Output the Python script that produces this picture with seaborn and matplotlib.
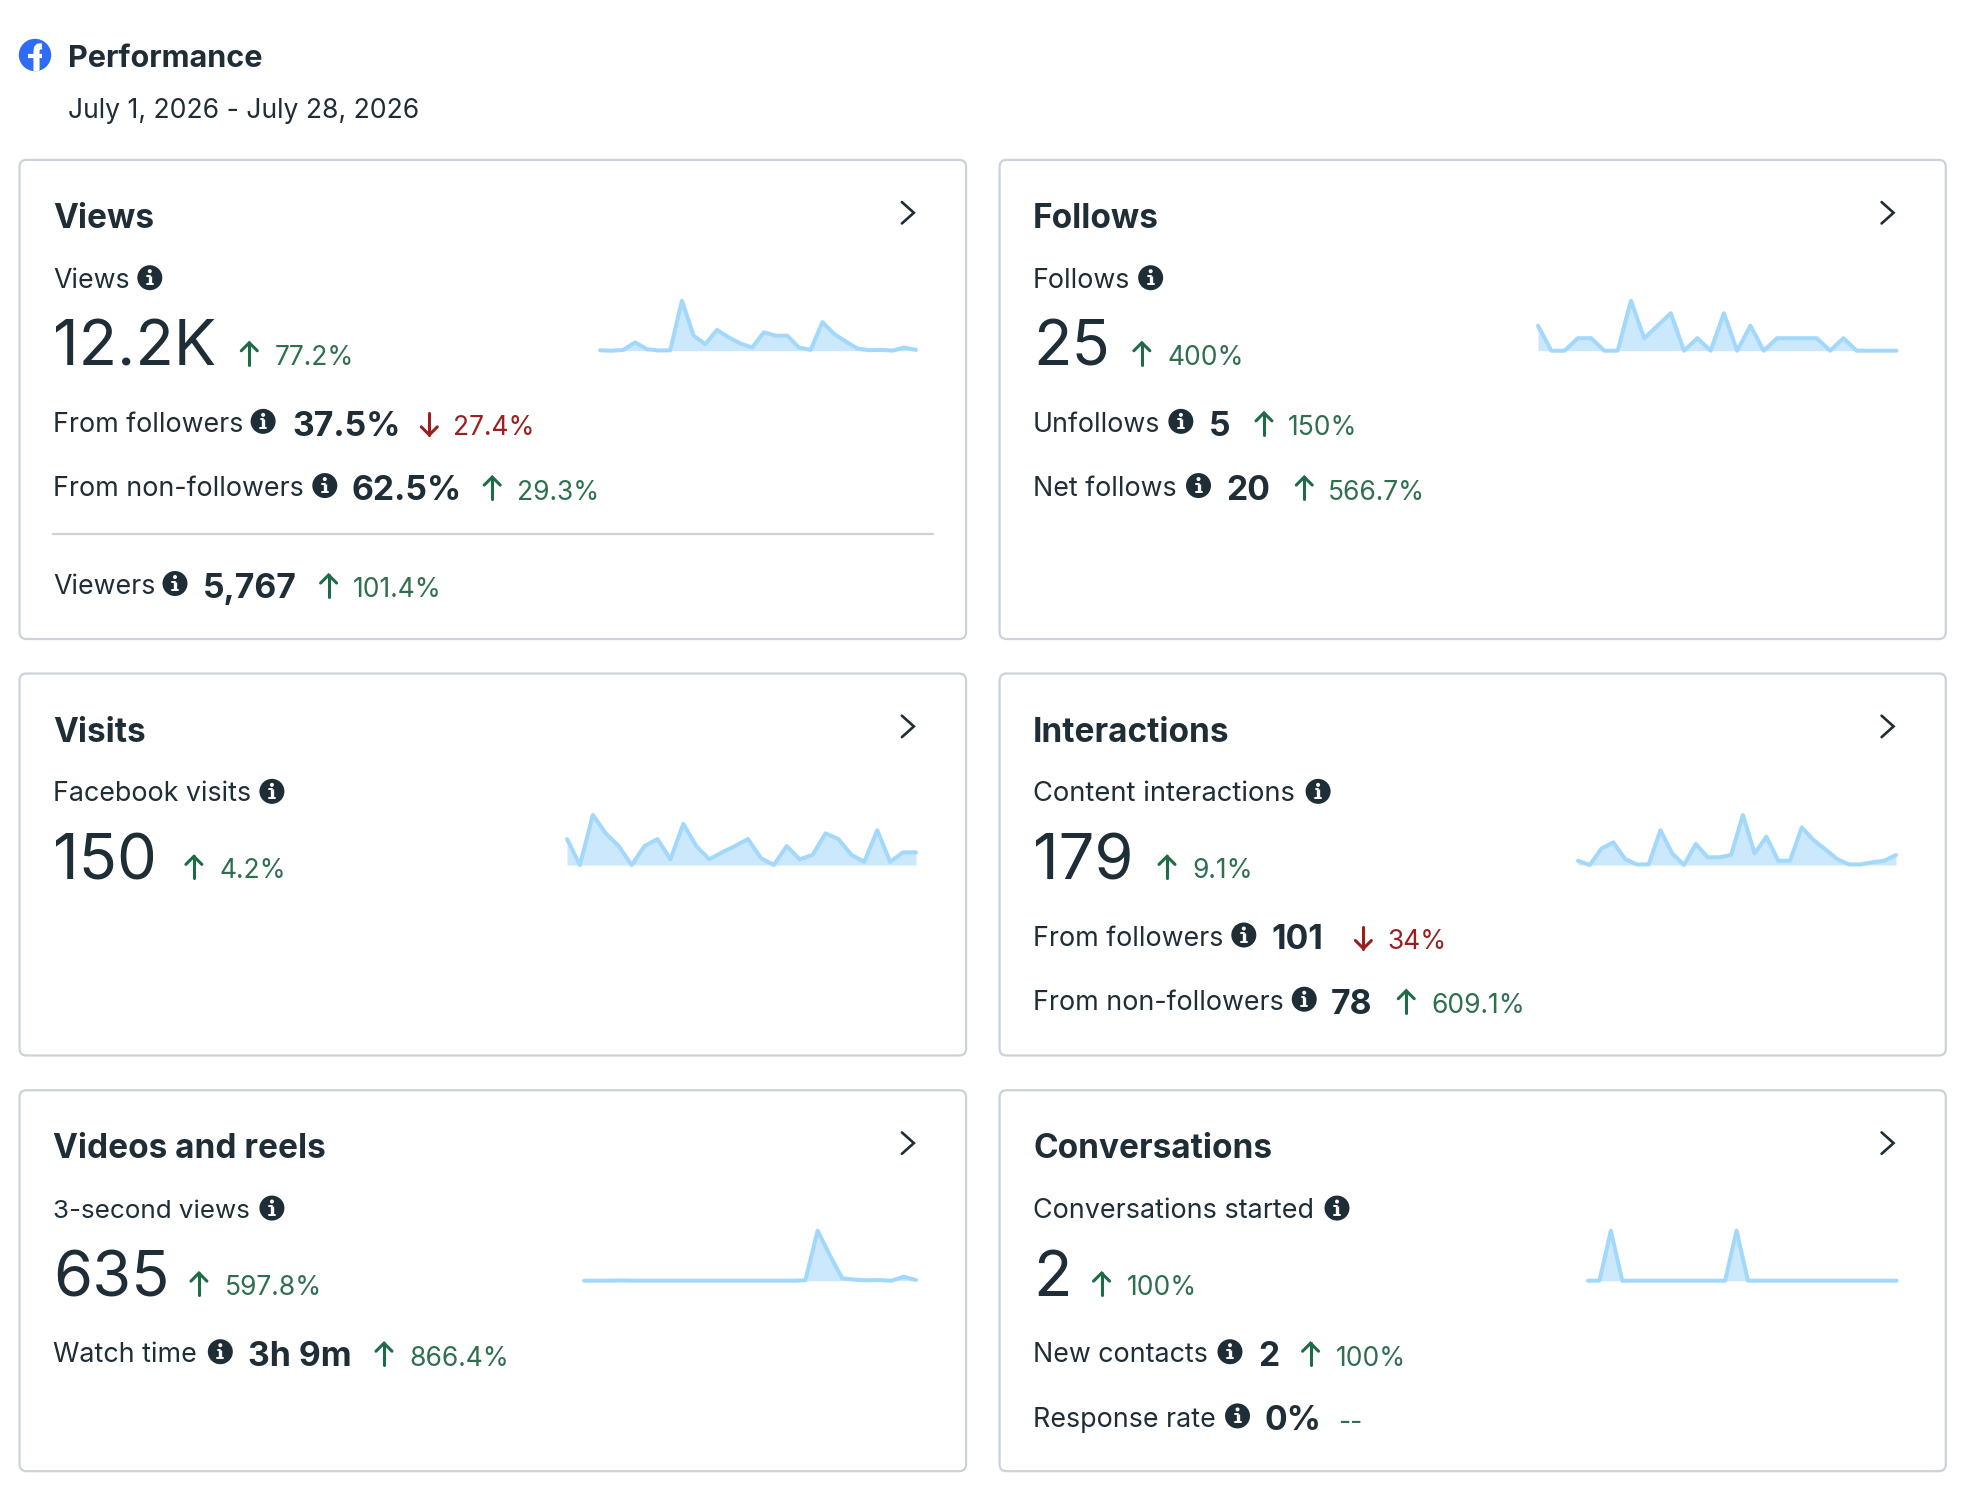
import matplotlib
matplotlib.use('Agg')
import matplotlib.pyplot as plt
from matplotlib.patches import FancyBboxPatch, Circle
import seaborn as sns

sns.set_theme(style='white')
plt.rcParams['font.family'] = ['Inter', 'DejaVu Sans']

W, H = 1974, 1492
S = 1974 / 1568   # layout below is noted at 1568 wide

INK = '#1f2d36'
GREEN = '#2f6f4f'
GREEN_ARROW = '#1f6b46'
RED = '#9a1f1f'
BORDER = '#cbd2d9'
LINE = '#a3d8fd'
FILL = '#cce8fd'

# chart values
header_title = 'Performance'
header_dates = 'July 1, 2026 - July 28, 2026'
card_titles = ['Views', 'Follows', 'Visits', 'Interactions', 'Videos and reels', 'Conversations']
main_labels = ['Views', 'Follows', 'Facebook visits', 'Content interactions', '3-second views', 'Conversations started']
main_values = ['12.2K', '25', '150', '179', '635', '2']
main_changes = ['77.2%', '400%', '4.2%', '9.1%', '597.8%', '100%']

views_daily = [30, 10, 50, 420, 85, 20, 30, 2470, 750, 335, 1035, 665, 365, 165, 915, 750, 750, 165, 50, 1415, 835, 465, 115, 35, 50, 15, 165, 50]
follows_daily = [2, 0, 0, 1, 1, 0, 0, 4, 1, 2, 3, 0, 1, 0, 3, 0, 2, 0, 1, 1, 1, 1, 0, 1, 0, 0, 0, 0]
visits_daily = [6.8, 2.7, 10.6, 7.7, 5.7, 2.7, 5.7, 6.8, 3.6, 9.2, 5.7, 3.6, 4.7, 5.7, 6.8, 3.8, 2.7, 5.7, 3.6, 4.3, 7.7, 6.8, 4.3, 3.2, 8.2, 3.2, 4.7, 4.7]
interactions_daily = [2.2, 0, 8.6, 11.7, 3.1, 0.3, 0.3, 18, 6, 0, 10.9, 4, 4, 5.2, 25.9, 6, 14.7, 2.2, 2.2, 19.5, 12.9, 8.1, 3.1, 0.3, 0.3, 1.4, 2.2, 5.2]
video_views_daily = [0, 0, 0, 2, 0, 0, 0, 0, 0, 0, 0, 0, 0, 0, 0, 0, 0, 0, 3, 375, 190, 18, 8, 3, 5, 0, 30, 5]
conversations_daily = [0, 0, 1, 0, 0, 0, 0, 0, 0, 0, 0, 0, 0, 1, 0, 0, 0, 0, 0, 0, 0, 0, 0, 0, 0, 0, 0, 0]
daily = [views_daily, follows_daily, visits_daily, interactions_daily, video_views_daily, conversations_daily]

# sub rows: label, value, change, direction
sub_labels = [['From followers', 'From non-followers', 'Viewers'],
              ['Unfollows', 'Net follows'],
              [],
              ['From followers', 'From non-followers'],
              ['Watch time'],
              ['New contacts', 'Response rate']]
sub_values = [['37.5%', '62.5%', '5,767'], ['5', '20'], [], ['101', '78'], ['3h 9m'], ['2', '0%']]
sub_changes = [['27.4%', '29.3%', '101.4%'], ['150%', '566.7%'], [], ['34%', '609.1%'], ['866.4%'], ['100%', '--']]
sub_dirs = [['down', 'up', 'up'], ['up', 'up'], [], ['down', 'up'], ['up'], ['up', None]]

# layout, x in 1568-wide picture units
card_x = [(15.5, 767.4), (794, 1545.6)] * 3
card_y = [(127, 507.6), (127, 507.6), (535, 838.4), (535, 838.4), (866, 1168.6), (866, 1168.6)]
label_sizes = [19.3, 19.3, 19.3, 19.7, 18.7, 19.4]
main_x = [(119, 198, 218), (914, 907, 927), (216, 154, 174), (1047, 927, 947), (216, 158, 179), (1062, 875, 895)]
sub_x = [[(209, 233, 341, 360), (258, 280, 391, 411), (139, 162, 261, 280)],
         [(938, 961, 1004, 1023), (952, 975, 1036, 1055)],
         [],
         [(988, 1011, 1083, 1102), (1036, 1058, 1117, 1137)],
         [(175, 198, 305, 325)],
         [(977, 1000, 1041, 1061), (983, 1005, None, 1063)]]
spark_px = [(600, 916, 350.7, 300.7), (1538, 1896.5, 350.7, 300.7), (567, 916, 865, 815),
            (1578, 1896, 865, 815), (584, 916, 1280.7, 1230.7), (1588, 1896.5, 1280.7, 1230.7)]

fig = plt.figure(figsize=(W / 100, H / 100), dpi=100, facecolor='white')
bg = fig.add_axes([0, 0, 1, 1])
bg.set_xlim(0, W)
bg.set_ylim(H, 0)
bg.axis('off')


def put(x, y, s, size, color=INK, weight='normal', **kw):
    bg.text(x * S, y * S, s, fontsize=size, color=color, fontweight=weight, va='baseline', ha='left', **kw)


def info(x, y):
    bg.add_patch(Circle((x * S, y * S), 12.5, fc=INK, ec='none', zorder=3))
    bg.plot([x * S, x * S], [y * S - 2, y * S + 6.5], color='white', lw=2.4, solid_capstyle='butt', zorder=4)
    bg.plot([x * S - 2.5, x * S], [y * S - 2, y * S - 2], color='white', lw=1.4, zorder=4)
    bg.plot([x * S - 3, x * S + 3], [y * S + 6.5, y * S + 6.5], color='white', lw=1.4, zorder=4)
    bg.add_patch(Circle((x * S, y * S - 6.5), 2, fc='white', ec='none', zorder=4))


def arrow(x, y, direction):
    cx, cy = x * S, y * S
    sign = -1 if direction == 'up' else 1
    col = GREEN_ARROW if direction == 'up' else RED
    bg.plot([cx, cx], [cy - sign * 11, cy + sign * 11], color=col, lw=2.2, solid_capstyle='round')
    bg.plot([cx - 8, cx, cx + 8], [cy + sign * 3, cy + sign * 11, cy + sign * 3], color=col, lw=2.2,
            solid_capstyle='round', solid_joinstyle='miter')


# header with logo, the f is drawn as two strokes and cut by the circle
lx, ly = 35, 55
logo = Circle((lx, ly), 16.2, fc='#2f6cf6', ec='none')
bg.add_patch(logo)
stem = bg.plot([lx + 1.5, lx + 1.5, lx + 2, lx + 3.5, lx + 7], [ly + 17, ly - 4, ly - 7, ly - 8.5, ly - 8.7],
               color='white', lw=4.4, solid_capstyle='butt', solid_joinstyle='round')[0]
bar = bg.plot([lx - 7.5, lx + 6.5], [ly + 1, ly + 1], color='white', lw=3, solid_capstyle='butt')[0]
stem.set_clip_path(logo)
bar.set_clip_path(logo)
put(54, 53, header_title, 22, weight='bold')
put(54, 94, header_dates, 19.1)

for i, title in enumerate(card_titles):
    x0, x1 = card_x[i]
    y0, y1 = card_y[i]
    bg.add_patch(FancyBboxPatch((x0 * S, y0 * S), (x1 - x0) * S, (y1 - y0) * S, boxstyle='round,pad=0,rounding_size=7',
                                fc='white', ec=BORDER, lw=1.6))
    tx = x0 + 26.6
    put(tx, y0 + 54.2, title, 24, weight='bold')
    put(tx, y0 + 101.5, main_labels[i], label_sizes[i])
    ix, ax_, px = main_x[i]
    info(ix, y0 + 93.6)
    put(tx, y0 + 163.6, main_values[i], 45.5)
    arrow(ax_, y0 + 154, 'up')
    put(px, y0 + 162.6, main_changes[i], 19, color=GREEN)
    # chevron
    cx = x1 - 46
    cy = y0 + 42
    bg.plot([(cx - 5) * S, (cx + 4.5) * S, (cx - 5) * S], [(cy - 8.5) * S, cy * S, (cy + 8.5) * S], color=INK, lw=1.9,
            solid_joinstyle='miter')
    # sub rows
    offs = [216.2, 267.2, 345]
    for j, lab in enumerate(sub_labels[i]):
        yy = y0 + offs[j]
        ix, vx, ax_, px = sub_x[i][j]
        put(tx, yy, lab, 19.3)
        info(ix, yy - 8.5)
        put(vx - 0.8, yy + 3, sub_values[i][j], 24.3, weight='bold')
        if sub_dirs[i][j]:
            arrow(ax_, yy - 6.5, sub_dirs[i][j])
        col = RED if sub_dirs[i][j] == 'down' else GREEN
        put(px, yy + 2.6, sub_changes[i][j], 19, color=col)

# divider in the views card
bg.plot([42 * S, 741 * S], [424 * S, 424 * S], color=BORDER, lw=1.6)

# sparklines
for i, vals in enumerate(daily):
    x0, x1, base, top = spark_px[i]
    ax = fig.add_axes([x0 / W, 1 - base / H, (x1 - x0) / W, (base - top) / H])
    days = list(range(1, len(vals) + 1))
    ax.fill_between(days, vals, min(vals), color=FILL, lw=0)
    sns.lineplot(x=days, y=vals, ax=ax, color=LINE, lw=2.9, errorbar=None, clip_on=False,
                 solid_capstyle='round', solid_joinstyle='round')
    ax.set_xlim(1, len(vals))
    ax.set_ylim(min(vals), max(vals))
    ax.axis('off')
    ax.patch.set_alpha(0)

fig.savefig('out.png', dpi=100)
